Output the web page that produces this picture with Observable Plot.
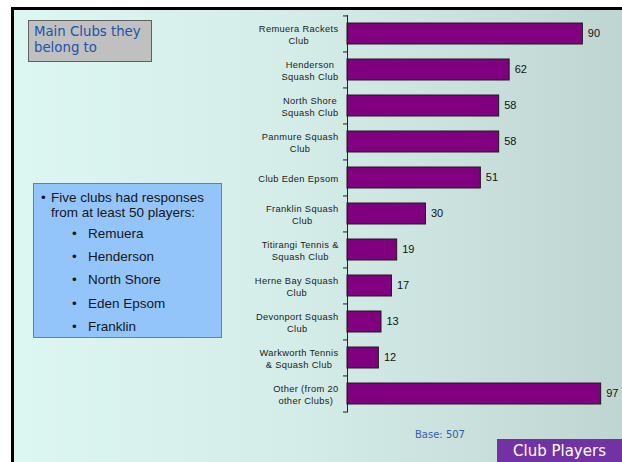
<!DOCTYPE html>
<html>
<head>
<meta charset="utf-8">
<script src="https://cdn.jsdelivr.net/npm/d3@7"></script>
<script src="https://cdn.jsdelivr.net/npm/@observablehq/plot@0.6"></script>
<style>
  html, body { margin: 0; padding: 0; background: #ffffff; }
  #page { position: relative; width: 622px; height: 462px; overflow: hidden; background: #ffffff; }
  #frame { position: absolute; left: 11px; top: 7px; width: 608px; height: 460px;
           border-left: 3px solid #000; border-top: 3px solid #000; border-right: 2px solid #111;
           background: linear-gradient(to right, #dcf6f2 0%, #d5ede9 45%, #c9e0dc 75%, #bed5d2 100%); }
  #chart { position: absolute; left: 0; top: 0; }
  #title { position: absolute; left: 28px; top: 20px; width: 124px; height: 42px; box-sizing: border-box;
           background: #c0c0c0; border: 1px solid #5f5f5f; color: #2152ad;
           font: 13.3px "DejaVu Sans", sans-serif; line-height: 16px; padding: 3px 0 0 5px; }
  #bullets { position: absolute; left: 33px; top: 183px; width: 189px; height: 155px; box-sizing: border-box;
             background: #93c5fb; border: 1px solid #6f7f8f; color: #161616;
             font: 13.5px "Liberation Sans", Arial, sans-serif; }
  #bullets .main { position: absolute; left: 17px; top: 6px; line-height: 15px; width: 170px; }
  #bullets .main .dot { position: absolute; left: -10px; top: 0; }
  #bullets .sub { position: absolute; left: 54px; }
  #bullets .sub .dot { position: absolute; left: -16px; }
  #base { position: absolute; left: 415px; top: 429px; color: #2f5fb0; font: 10px "DejaVu Sans", sans-serif; }
  #tag { position: absolute; left: 497px; top: 439px; width: 125px; height: 24px; background: #7232a4;
         color: #ffffff; font: 15px "DejaVu Sans", sans-serif; text-align: center; line-height: 24px; }
  .clublabel text { letter-spacing: 0.35px; }
</style>
</head>
<body>
<div id="page">
  <div id="frame"></div>
  <div id="chart"></div>
  <div id="title"></div>
  <div id="bullets"></div>
  <div id="base"></div>
  <div id="tag"></div>
</div>
<script>
// ---- data ----
const clubs = [
  "Remuera Rackets\nClub",
  "Henderson\nSquash Club",
  "North Shore\nSquash Club",
  "Panmure Squash\nClub",
  "Club Eden Epsom",
  "Franklin Squash\nClub",
  "Titirangi Tennis &\nSquash Club",
  "Herne Bay Squash\nClub",
  "Devonport Squash\nClub",
  "Warkworth Tennis\n& Squash Club",
  "Other (from 20\nother Clubs)"
];
const players = [90, 62, 58, 58, 51, 30, 19, 17, 13, 12, 97];
const titleText = "Main Clubs they belong to";
const bulletHead = "Five clubs had responses from at least 50 players:";
const bulletItems = ["Remuera", "Henderson", "North Shore", "Eden Epsom", "Franklin"];
const baseText = "Base: 507";
const tagText = "Club Players";

// ---- text boxes ----
document.getElementById("title").textContent = titleText;
document.getElementById("base").textContent = baseText;
document.getElementById("tag").textContent = tagText;
const bx = document.getElementById("bullets");
const head = document.createElement("div");
head.className = "main";
head.innerHTML = '<span class="dot">•</span>';
head.appendChild(document.createTextNode(bulletHead));
bx.appendChild(head);
bulletItems.forEach((t, i) => {
  const d = document.createElement("div");
  d.className = "sub";
  d.style.top = (42 + i * 23.2) + "px";
  d.innerHTML = '<span class="dot">•</span>';
  d.appendChild(document.createTextNode(t));
  bx.appendChild(d);
});

// ---- chart ----
const data = clubs.map((c, i) => ({club: c, value: players[i]}));
const W = 622, H = 462, mt = 15, mb = 49.5, ml = 347, mr = 13.5;
const step = (H - mt - mb) / clubs.length;

const chart = Plot.plot({
  width: W, height: H,
  marginTop: mt, marginBottom: mb, marginLeft: ml, marginRight: mr,
  style: {background: "transparent", overflow: "visible"},
  x: {domain: [0, 100], axis: null},
  y: {domain: clubs, paddingInner: 0.43, paddingOuter: 0.215, label: null},
  marks: [
    Plot.barX(data, {x: "value", y: "club", fill: "#800080", stroke: "#1c1c1c", strokeWidth: 1}),
    Plot.axisY({tickSize: 4, tickFormat: () => "", dy: -step / 2, stroke: "#222"}),
    Plot.axisY({ticks: [clubs[clubs.length - 1]], tickSize: 4, tickFormat: () => "", dy: step / 2, stroke: "#222"}),
    Plot.ruleX([0], {stroke: "#222", strokeWidth: 1}),
    Plot.text(clubs, {y: d => d, text: d => d, frameAnchor: "left", dx: -9, textAnchor: "end",
      fontSize: 9.3, lineHeight: 1.33, fill: "#1a1a1a", fontFamily: "Liberation Sans, Arial, sans-serif",
      className: "clublabel"}),
    Plot.text(data, {x: "value", y: "club", text: d => String(d.value), textAnchor: "start", dx: 5, dy: -1,
      fontSize: 11, fill: "#111", fontFamily: "Liberation Sans, Arial, sans-serif"})
  ]
});
document.getElementById("chart").appendChild(chart);

// center the lines of each club label within its own block (right edge kept)
chart.querySelectorAll(".clublabel text").forEach(t => {
  const b = t.getBBox();
  const right = b.x + b.width;
  t.setAttribute("text-anchor", "middle");
  const spans = t.querySelectorAll("tspan");
  if (spans.length) spans.forEach(s => s.setAttribute("x", right - b.width / 2));
  else t.setAttribute("x", (+t.getAttribute("x") || 0) + right - b.width / 2);
});
</script>
</body>
</html>
